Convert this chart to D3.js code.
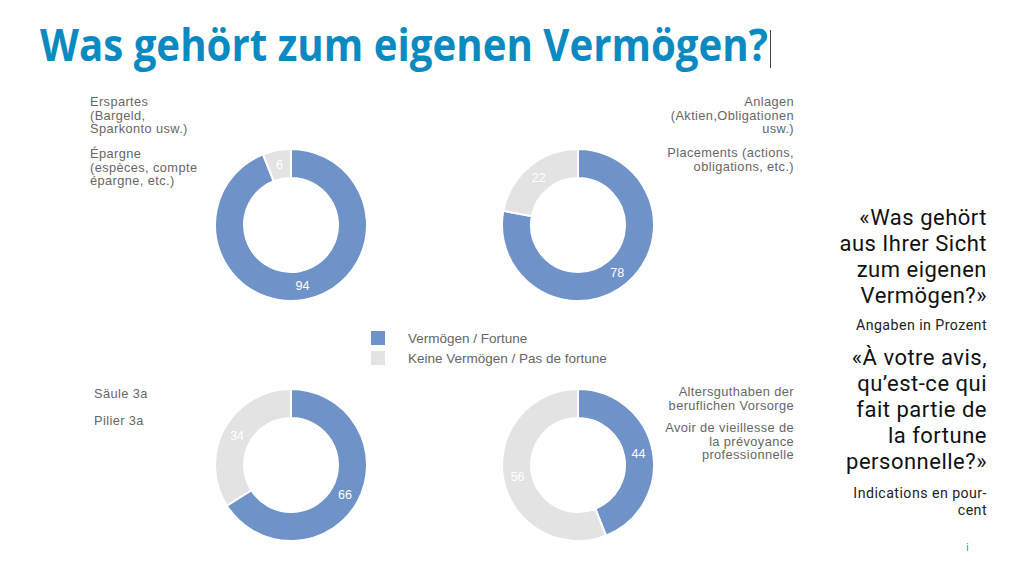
<!DOCTYPE html>
<html><head><meta charset="utf-8">
<script src="https://cdn.jsdelivr.net/npm/d3@7"></script>
<style>html,body{margin:0;padding:0;background:#fff;}svg{display:block;}</style>
</head><body>
<svg id="chart" width="1024" height="581"></svg>
<script>
const title = "Was gehört zum eigenen Vermögen?";
const categoriesDE = [["Erspartes","(Bargeld,","Sparkonto usw.)"],["Anlagen","(Aktien,Obligationen","usw.)"],["Säule 3a"],["Altersguthaben der","beruflichen Vorsorge"]];
const categoriesFR = [["Épargne","(espèces, compte","épargne, etc.)"],["Placements (actions,","obligations, etc.)"],["Pilier 3a"],["Avoir de vieillesse de","la prévoyance","professionnelle"]];
const fortune = [94, 78, 66, 44];
const noFortune = [6, 22, 34, 56];
const seriesNames = ["Vermögen / Fortune", "Keine Vermögen / Pas de fortune"];
const sideQuestionDE = ["«Was gehört","aus Ihrer Sicht","zum eigenen","Vermögen?»"];
const sideNoteDE = ["Angaben in Prozent"];
const sideQuestionFR = ["«À votre avis,","qu’est-ce qui","fait partie de","la fortune","personnelle?»"];
const sideNoteFR = ["Indications en pour-","cent"];

const svg = d3.select("#chart");
const colors = d3.scaleOrdinal().domain(seriesNames).range(["#6f92c8","#e3e3e3"]);
const labelFont = "'Liberation Sans', Arial, Helvetica, sans-serif";
const titleFont = "'Open Sans', 'Noto Sans', sans-serif";
const sideFont = "Roboto, 'Liberation Sans', sans-serif";

// title
svg.append("text").attr("x", 40).attr("y", 61)
  .attr("font-family", titleFont).attr("font-weight", 700).attr("font-size", 44)
  .attr("fill", "#0a8ac0").attr("textLength", 728).attr("lengthAdjust","spacingAndGlyphs")
  .text(title);
svg.append("line").attr("x1", 770.5).attr("x2", 770.5).attr("y1", 30).attr("y2", 68)
  .attr("stroke", "#444").attr("stroke-width", 1);

const centers = [[291,225],[578,225],[291,465],[578,465]];
const outerR = 76, innerR = 47;
const pie = d3.pie().sort(null).value(d => d.value);
const arc = d3.arc().innerRadius(innerR).outerRadius(outerR);
const labelArc = d3.arc().innerRadius((innerR+outerR)/2).outerRadius((innerR+outerR)/2);

fortune.forEach((v, i) => {
  const data = [{key: seriesNames[0], value: v}, {key: seriesNames[1], value: noFortune[i]}];
  const g = svg.append("g").attr("transform", `translate(${centers[i][0]},${centers[i][1]})`);
  const arcs = pie(data);
  g.selectAll("path").data(arcs).join("path")
    .attr("d", arc).attr("fill", d => colors(d.data.key))
    .attr("stroke", "#fff").attr("stroke-width", 2);
  g.selectAll("text").data(arcs).join("text")
    .attr("transform", d => `translate(${labelArc.centroid(d)})`)
    .attr("text-anchor", "middle").attr("dy", "0.35em")
    .attr("font-family", labelFont).attr("font-size", 12.5).attr("fill", "#fff")
    .text(d => d.data.value);
});

// category labels
const labelPos = [
  {x: 90, y: 106, anchor: "start", fy: 158},
  {x: 794, y: 106, anchor: "end", fy: 157},
  {x: 94, y: 398, anchor: "start", fy: 425},
  {x: 794, y: 396, anchor: "end", fy: 432}
];
const lh = 13.5;
labelPos.forEach((p, i) => {
  const t = svg.append("text").attr("font-family", labelFont).attr("font-size", 12.8)
    .attr("letter-spacing", 0.4)
    .attr("fill", "#666").attr("text-anchor", p.anchor);
  const de = categoriesDE[i], fr = categoriesFR[i];
  de.forEach((s, j) => t.append("tspan").attr("x", p.x).attr("y", p.y + j*lh).text(s));
  fr.forEach((s, j) => t.append("tspan").attr("x", p.x).attr("y", p.fy + j*lh).text(s));
});

// legend
const lg = svg.append("g");
seriesNames.forEach((s, i) => {
  lg.append("rect").attr("x", 371).attr("y", 331 + i*20).attr("width", 14).attr("height", 14)
    .attr("fill", colors(s));
  lg.append("text").attr("x", 408).attr("y", 343 + i*20)
    .attr("font-family", labelFont).attr("font-size", 13.5).attr("fill", "#666").text(s);
});

// side text
function block(lines, y0, lhh, size, color, ls) {
  const t = svg.append("text").attr("font-family", sideFont).attr("font-size", size)
    .attr("fill", color).attr("text-anchor", "end").attr("letter-spacing", ls);
  lines.forEach((s, j) => t.append("tspan").attr("x", 987).attr("y", y0 + j*lhh).text(s));
}
block(sideQuestionDE, 225, 26, 22, "#111", 0.5);
block(sideNoteDE, 330, 17, 14.2, "#222", 0.45);
block(sideQuestionFR, 365, 26, 22, "#111", 0.5);
block(sideNoteFR, 498, 17, 14.2, "#222", 0.45);
svg.append("text").attr("x", 966).attr("y", 551).attr("font-family", sideFont)
  .attr("font-size", 11).attr("fill", "#2e9be6").text("i");
</script>
</body></html>
